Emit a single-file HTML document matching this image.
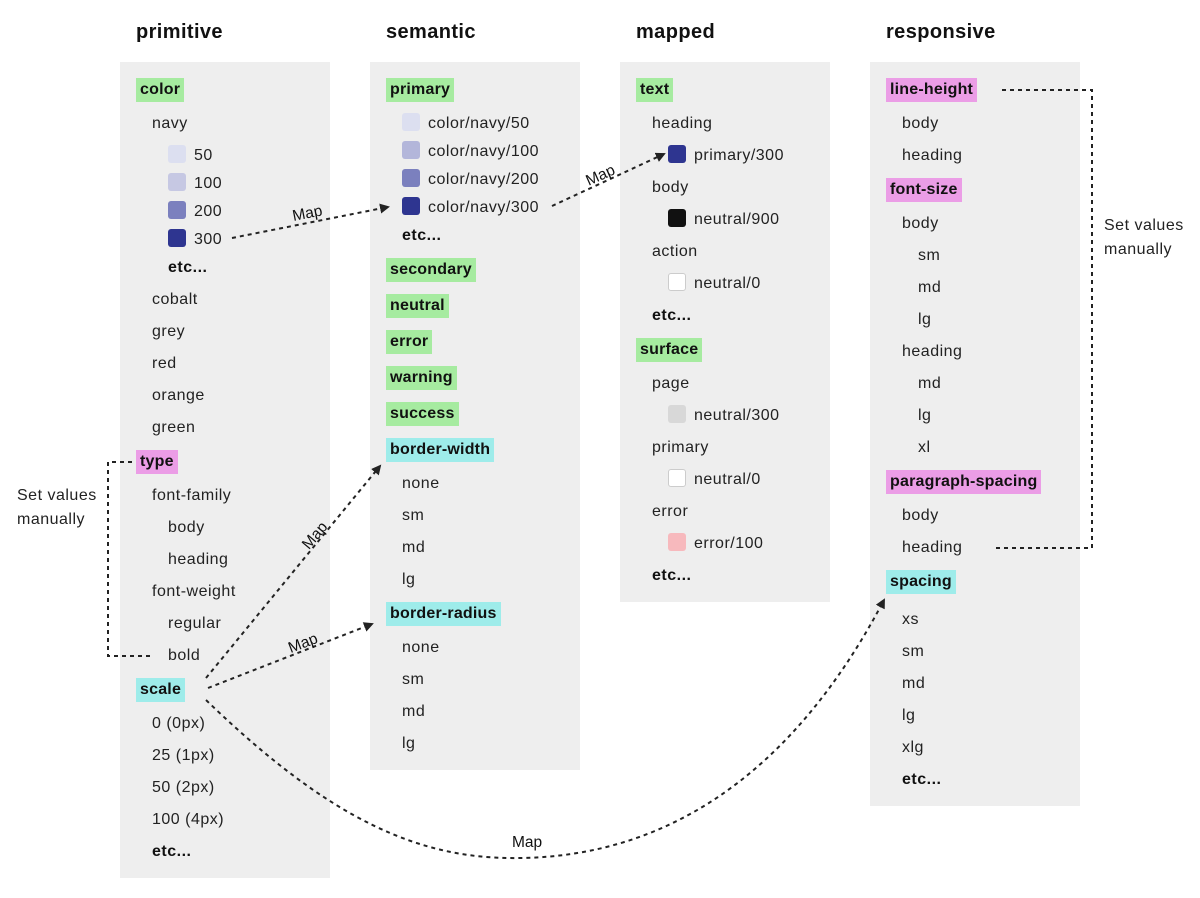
<!DOCTYPE html>
<html><head><meta charset="utf-8"><style>
body{margin:0;width:1200px;height:898px;background:#fff;position:relative;overflow:hidden;font-family:"Liberation Sans",sans-serif;color:#222}
.p{position:absolute;background:#eeeeee;width:210px;top:62px}
.h{position:absolute;top:21px;font-size:20px;font-weight:bold;color:#111;letter-spacing:0.4px}
.t{position:absolute;font-size:16px;line-height:24px;height:24px;white-space:nowrap;letter-spacing:0.5px;margin-top:2px}
.g{font-weight:bold;padding:0 4px;color:#111;margin-top:0;letter-spacing:0.2px}
.gr{background:#a6eba0}.pk{background:#eb9de6}.cy{background:#9eecea}
.b{font-weight:bold;color:#111}
.s{position:absolute;width:18px;height:18px;border-radius:3px}
.w{background:#fff;border:1px solid #ccc;width:16px;height:16px}
svg{position:absolute;left:0;top:0}
</style></head><body>
<div class="p" style="left:120px;height:816px"></div>
<div class="p" style="left:370px;height:708px"></div>
<div class="p" style="left:620px;height:540px"></div>
<div class="p" style="left:870px;height:744px"></div>
<div class="h" style="left:136px">primitive</div>
<div class="h" style="left:386px">semantic</div>
<div class="h" style="left:636px">mapped</div>
<div class="h" style="left:886px">responsive</div>

<!-- primitive -->
<div class="t g gr" style="left:136px;top:78px">color</div>
<div class="t" style="left:152px;top:110px">navy</div>
<div class="s" style="left:168px;top:145px;background:#dcdff0"></div><div class="t" style="left:194px;top:142px">50</div>
<div class="s" style="left:168px;top:173px;background:#c6c8e3"></div><div class="t" style="left:194px;top:170px">100</div>
<div class="s" style="left:168px;top:201px;background:#7b80be"></div><div class="t" style="left:194px;top:198px">200</div>
<div class="s" style="left:168px;top:229px;background:#2e3590"></div><div class="t" style="left:194px;top:226px">300</div>
<div class="t b" style="left:168px;top:254px">etc...</div>
<div class="t" style="left:152px;top:286px">cobalt</div>
<div class="t" style="left:152px;top:318px">grey</div>
<div class="t" style="left:152px;top:350px">red</div>
<div class="t" style="left:152px;top:382px">orange</div>
<div class="t" style="left:152px;top:414px">green</div>
<div class="t g pk" style="left:136px;top:450px">type</div>
<div class="t" style="left:152px;top:482px">font-family</div>
<div class="t" style="left:168px;top:514px">body</div>
<div class="t" style="left:168px;top:546px">heading</div>
<div class="t" style="left:152px;top:578px">font-weight</div>
<div class="t" style="left:168px;top:610px">regular</div>
<div class="t" style="left:168px;top:642px">bold</div>
<div class="t g cy" style="left:136px;top:678px">scale</div>
<div class="t" style="left:152px;top:710px">0 (0px)</div>
<div class="t" style="left:152px;top:742px">25 (1px)</div>
<div class="t" style="left:152px;top:774px">50 (2px)</div>
<div class="t" style="left:152px;top:806px">100 (4px)</div>
<div class="t b" style="left:152px;top:838px">etc...</div>

<!-- semantic -->
<div class="t g gr" style="left:386px;top:78px">primary</div>
<div class="s" style="left:402px;top:113px;background:#dcdff0"></div><div class="t" style="left:428px;top:110px">color/navy/50</div>
<div class="s" style="left:402px;top:141px;background:#b3b6da"></div><div class="t" style="left:428px;top:138px">color/navy/100</div>
<div class="s" style="left:402px;top:169px;background:#7b80be"></div><div class="t" style="left:428px;top:166px">color/navy/200</div>
<div class="s" style="left:402px;top:197px;background:#2e3590"></div><div class="t" style="left:428px;top:194px">color/navy/300</div>
<div class="t b" style="left:402px;top:222px">etc...</div>
<div class="t g gr" style="left:386px;top:258px">secondary</div>
<div class="t g gr" style="left:386px;top:294px">neutral</div>
<div class="t g gr" style="left:386px;top:330px">error</div>
<div class="t g gr" style="left:386px;top:366px">warning</div>
<div class="t g gr" style="left:386px;top:402px">success</div>
<div class="t g cy" style="left:386px;top:438px">border-width</div>
<div class="t" style="left:402px;top:470px">none</div>
<div class="t" style="left:402px;top:502px">sm</div>
<div class="t" style="left:402px;top:534px">md</div>
<div class="t" style="left:402px;top:566px">lg</div>
<div class="t g cy" style="left:386px;top:602px">border-radius</div>
<div class="t" style="left:402px;top:634px">none</div>
<div class="t" style="left:402px;top:666px">sm</div>
<div class="t" style="left:402px;top:698px">md</div>
<div class="t" style="left:402px;top:730px">lg</div>

<!-- mapped -->
<div class="t g gr" style="left:636px;top:78px">text</div>
<div class="t" style="left:652px;top:110px">heading</div>
<div class="s" style="left:668px;top:145px;background:#2e3590"></div><div class="t" style="left:694px;top:142px">primary/300</div>
<div class="t" style="left:652px;top:174px">body</div>
<div class="s" style="left:668px;top:209px;background:#111"></div><div class="t" style="left:694px;top:206px">neutral/900</div>
<div class="t" style="left:652px;top:238px">action</div>
<div class="s w" style="left:668px;top:273px"></div><div class="t" style="left:694px;top:270px">neutral/0</div>
<div class="t b" style="left:652px;top:302px">etc...</div>
<div class="t g gr" style="left:636px;top:338px">surface</div>
<div class="t" style="left:652px;top:370px">page</div>
<div class="s" style="left:668px;top:405px;background:#d8d8d8"></div><div class="t" style="left:694px;top:402px">neutral/300</div>
<div class="t" style="left:652px;top:434px">primary</div>
<div class="s w" style="left:668px;top:469px"></div><div class="t" style="left:694px;top:466px">neutral/0</div>
<div class="t" style="left:652px;top:498px">error</div>
<div class="s" style="left:668px;top:533px;background:#f7b9bd"></div><div class="t" style="left:694px;top:530px">error/100</div>
<div class="t b" style="left:652px;top:562px">etc...</div>

<!-- responsive -->
<div class="t g pk" style="left:886px;top:78px">line-height</div>
<div class="t" style="left:902px;top:110px">body</div>
<div class="t" style="left:902px;top:142px">heading</div>
<div class="t g pk" style="left:886px;top:178px">font-size</div>
<div class="t" style="left:902px;top:210px">body</div>
<div class="t" style="left:918px;top:242px">sm</div>
<div class="t" style="left:918px;top:274px">md</div>
<div class="t" style="left:918px;top:306px">lg</div>
<div class="t" style="left:902px;top:338px">heading</div>
<div class="t" style="left:918px;top:370px">md</div>
<div class="t" style="left:918px;top:402px">lg</div>
<div class="t" style="left:918px;top:434px">xl</div>
<div class="t g pk" style="left:886px;top:470px">paragraph-spacing</div>
<div class="t" style="left:902px;top:502px">body</div>
<div class="t" style="left:902px;top:534px">heading</div>
<div class="t g cy" style="left:886px;top:570px">spacing</div>
<div class="t" style="left:902px;top:606px">xs</div>
<div class="t" style="left:902px;top:638px">sm</div>
<div class="t" style="left:902px;top:670px">md</div>
<div class="t" style="left:902px;top:702px">lg</div>
<div class="t" style="left:902px;top:734px">xlg</div>
<div class="t b" style="left:902px;top:766px">etc...</div>

<div class="t" style="left:17px;top:482px">Set values</div>
<div class="t" style="left:17px;top:506px">manually</div>
<div class="t" style="left:1104px;top:212px">Set values</div>
<div class="t" style="left:1104px;top:236px">manually</div>

<svg width="1200" height="898" font-family="Liberation Sans, sans-serif" font-size="15.5" fill="#111">
<defs><marker id="a" markerWidth="10" markerHeight="10" refX="8" refY="5" orient="auto" markerUnits="userSpaceOnUse"><path d="M0,0 L10,5 L0,10 z" fill="#222"/></marker></defs>
<g stroke="#222" stroke-width="2" stroke-dasharray="4 4" fill="none">
<path d="M232,238 L388,207" marker-end="url(#a)"/>
<path d="M552,206 L664,154" marker-end="url(#a)"/>
<path d="M206,678 L380,466" marker-end="url(#a)"/>
<path d="M208,688 L372,624" marker-end="url(#a)"/>
<path d="M206,700 C330,820 420,860 520,858 C680,856 800,760 884,600" marker-end="url(#a)"/>
<path d="M132,462 L108,462 L108,656 L150,656"/>
<path d="M1002,90 L1092,90 L1092,548 L992,548"/>
</g>
<text x="292" y="218" transform="rotate(-11 308 212)">Map</text>
<text x="584" y="180" transform="rotate(-24 600 172)">Map</text>
<text x="292" y="546" transform="rotate(-50 305 530)">Map</text>
<text x="286" y="648" transform="rotate(-21 302 638)">Map</text>
<text x="512" y="847">Map</text>
</svg>
</body></html>
